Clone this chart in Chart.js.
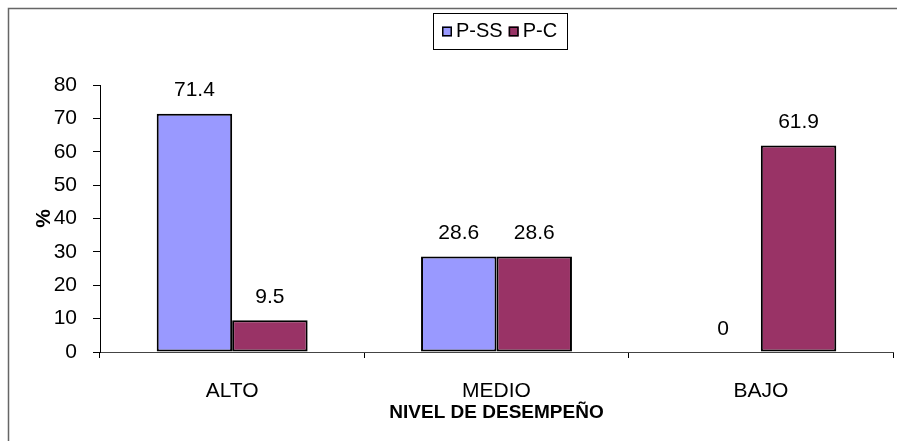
<!DOCTYPE html>
<html>
<head>
<meta charset="utf-8">
<script src="https://cdn.jsdelivr.net/npm/chart.js@4/dist/chart.umd.min.js"></script>
<style>
  html, body { margin: 0; padding: 0; background: #fff; overflow: hidden; }
  #wrap { width: 897px; height: 441px; position: relative; }
</style>
</head>
<body>
<div id="wrap"><canvas id="c"></canvas></div>
<script>
// Performance levels and percentages per group
const categories = ['ALTO', 'MEDIO', 'BAJO'];
const seriesNames = ['P-SS', 'P-C'];
const valuesPSS = [71.4, 28.6, 0];
const valuesPC = [9.5, 28.6, 61.9];
const seriesColors = ['#9999FF', '#993366'];
const yTicks = [0, 10, 20, 30, 40, 50, 60, 70, 80];

const FONT = "'Liberation Sans', Arial, sans-serif";
Chart.defaults.font.family = FONT;
Chart.defaults.color = '#000';

// White background and the frame's left and top edges
const framePlugin = {
  id: 'frame',
  beforeDraw(chart) {
    const ctx = chart.ctx;
    ctx.save();
    ctx.fillStyle = '#fff';
    ctx.fillRect(0, 0, chart.width, chart.height);
    ctx.strokeStyle = '#666';
    ctx.lineWidth = 1.5;
    ctx.beginPath();
    ctx.moveTo(8.5, chart.height);
    ctx.lineTo(8.5, 8.5);
    ctx.lineTo(chart.width, 8.5);
    ctx.stroke();
    ctx.restore();
  }
};

// Value labels above each bar
const valueLabels = {
  id: 'valueLabels',
  afterDatasetsDraw(chart) {
    const ctx = chart.ctx;
    ctx.save();
    ctx.font = '21px ' + FONT;
    ctx.fillStyle = '#000';
    ctx.textAlign = 'center';
    ctx.textBaseline = 'middle';
    chart.data.datasets.forEach((ds, i) => {
      chart.getDatasetMeta(i).data.forEach((bar, j) => {
        ctx.fillText(String(ds.data[j]), bar.x, bar.y - 23);
      });
    });
    ctx.restore();
  }
};

// Boxed legend near the top
const boxedLegend = {
  id: 'boxedLegend',
  afterDraw(chart) {
    const ctx = chart.ctx;
    ctx.save();
    ctx.font = '20px ' + FONT;
    ctx.textBaseline = 'middle';
    const sq = 10, gapIn = 4, gapOut = 6, padX = 9;
    const items = chart.data.datasets.map(ds => ({
      label: ds.label, color: ds.backgroundColor,
      w: ctx.measureText(ds.label).width
    }));
    let total = padX * 2;
    items.forEach((it, k) => { total += sq + gapIn + it.w + (k < items.length - 1 ? gapOut : 0); });
    total = Math.max(total, 134);
    const boxH = 36, top = 13, left = 433;
    ctx.strokeStyle = '#000';
    ctx.lineWidth = 1;
    ctx.strokeRect(left + 0.5, top + 0.5, total, boxH);
    const cy = top + boxH / 2 + 0.5;
    let x = left + padX;
    items.forEach(it => {
      ctx.fillStyle = it.color;
      ctx.fillRect(x, cy - sq / 2, sq, sq);
      ctx.lineWidth = 1.5;
      ctx.strokeStyle = '#000';
      ctx.strokeRect(x + 0.75, cy - sq / 2 + 0.75, sq - 1.5, sq - 1.5);
      x += sq + gapIn;
      ctx.fillStyle = '#000';
      ctx.textAlign = 'left';
      ctx.fillText(it.label, x, cy);
      x += it.w + gapOut;
    });
    ctx.restore();
  }
};

const datasets = [valuesPSS, valuesPC].map((vals, i) => ({
  label: seriesNames[i],
  data: vals,
  backgroundColor: seriesColors[i],
  borderColor: '#000',
  borderWidth: ctx => (ctx.raw === 0 ? 0 : 2),
  borderSkipped: false,
  categoryPercentage: 0.571,
  barPercentage: 1.0
}));

new Chart(document.getElementById('c'), {
  type: 'bar',
  data: { labels: categories, datasets },
  options: {
    responsive: true,
    maintainAspectRatio: false,
    animation: false,
    layout: { padding: { top: 85, right: 4, bottom: 0, left: 0 } },
    plugins: {
      legend: { display: false },
      tooltip: { enabled: false }
    },
    scales: {
      x: {
        afterFit(scale) { scale.height = 89; },
        grid: { display: true, drawOnChartArea: false, tickLength: 6, color: '#000', offset: true },
        border: { color: '#444', width: 1 },
        ticks: { font: { size: 21 }, padding: 21, color: '#000' },
        title: {
          display: true,
          text: 'NIVEL DE DESEMPEÑO',
          font: { size: 19, weight: 'bold' },
          color: '#000',
          padding: { top: 0, bottom: 17 }
        }
      },
      y: {
        min: 0,
        max: 80,
        afterFit(scale) { scale.width = 100; },
        afterBuildTicks(scale) { scale.ticks = yTicks.map(v => ({ value: v })); },
        grid: { display: true, drawOnChartArea: false, tickLength: 7, color: '#000' },
        border: { color: '#000', width: 1 },
        ticks: { font: { size: 21 }, padding: 16, color: '#000' },
        title: {
          display: true,
          text: '%',
          font: { size: 21, weight: 'bold' },
          color: '#000',
          padding: { top: 32, bottom: 0 }
        }
      }
    }
  },
  plugins: [framePlugin, valueLabels, boxedLegend]
});
</script>
</body>
</html>
